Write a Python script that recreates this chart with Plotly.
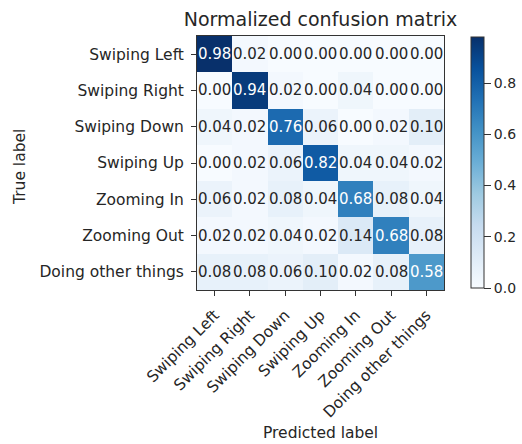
import plotly.graph_objects as go

classes = ["Swiping Left", "Swiping Right", "Swiping Down", "Swiping Up",
           "Zooming In", "Zooming Out", "Doing other things"]
matrix = [
    [0.98, 0.02, 0.00, 0.00, 0.00, 0.00, 0.00],
    [0.00, 0.94, 0.02, 0.00, 0.04, 0.00, 0.00],
    [0.04, 0.02, 0.76, 0.06, 0.00, 0.02, 0.10],
    [0.00, 0.02, 0.06, 0.82, 0.04, 0.04, 0.02],
    [0.06, 0.02, 0.08, 0.04, 0.68, 0.08, 0.04],
    [0.02, 0.02, 0.04, 0.02, 0.14, 0.68, 0.08],
    [0.08, 0.08, 0.06, 0.10, 0.02, 0.08, 0.58],
]
cbar_ticks = [0.0, 0.2, 0.4, 0.6, 0.8]

blues = [[0.0, "#f7fbff"], [0.125, "#deebf7"], [0.25, "#c6dbef"], [0.375, "#9ecae1"],
         [0.5, "#6baed6"], [0.625, "#4292c6"], [0.75, "#2171b5"], [0.875, "#08519c"],
         [1.0, "#08306b"]]

W, H = 522, 444
L, R, T, B = 197, 78, 36, 154
pw, ph = W - L - R, H - T - B

n = len(classes)
zmax = max(max(r) for r in matrix)
idx = list(range(n))

fig = go.Figure(go.Heatmap(
    z=matrix, x=idx, y=idx, colorscale=blues, zmin=0, zmax=zmax,
    colorbar=dict(
        x=(471 - L) / pw, xanchor="left", xpad=0, ypad=0,
        y=(H - 288 - B) / ph, yanchor="bottom",
        len=(288 - 37) / ph, lenmode="fraction", thickness=13,
        outlinecolor="#333", outlinewidth=1,
        tickvals=cbar_ticks, ticktext=[f"{v:.1f}" for v in cbar_ticks],
        ticks="outside", ticklen=7, tickcolor="#333",
        tickfont=dict(size=14, color="#262626"),
    ),
    hoverinfo="skip",
))

thresh = zmax / 2
for i, row in enumerate(matrix):
    for j, v in enumerate(row):
        fig.add_annotation(
            x=j, y=i, text=f"{v:.2f}", showarrow=False,
            font=dict(size=15, color="white" if v > thresh else "#262626"),
        )

fig.add_annotation(text="True label", xref="paper", yref="paper",
                   x=(20 - L) / pw, y=(H - B - 167) / ph, textangle=-90,
                   showarrow=False, xanchor="center", yanchor="middle",
                   font=dict(size=15.5, color="#262626"))
fig.add_annotation(text="Predicted label", xref="paper", yref="paper",
                   x=0.5, y=(H - B - 433) / ph,
                   showarrow=False, xanchor="center", yanchor="middle",
                   font=dict(size=15.5, color="#262626"))

axis_common = dict(showline=True, linecolor="#333", linewidth=1, mirror=True,
                   ticks="outside", ticklen=5, tickcolor="#333", automargin=False,
                   ticklabelstandoff=4,
                   tickfont=dict(size=15.5, color="#262626"), showgrid=False, zeroline=False)

fig.update_layout(
    width=W, height=H,
    margin=dict(l=L, r=R, t=T, b=B, autoexpand=False),
    paper_bgcolor="white", plot_bgcolor="white",
    font=dict(family="DejaVu Sans", color="#262626"),
    title=dict(text="Normalized confusion matrix", x=0.5, xanchor="center",
               xref="paper", y=(H - 19) / H, yref="container", yanchor="middle",
               font=dict(size=19, color="#262626")),
    xaxis=dict(range=[-0.5, n - 0.5], tickvals=idx, ticktext=classes, tickangle=-45,
               **axis_common),
    yaxis=dict(range=[n - 0.5, -0.5], tickvals=idx, ticktext=classes,
               **axis_common),
)

fig.write_html("out.html", config={"displayModeBar": False},
               post_script="document.body.style.margin='0';document.body.style.overflow='hidden';")
